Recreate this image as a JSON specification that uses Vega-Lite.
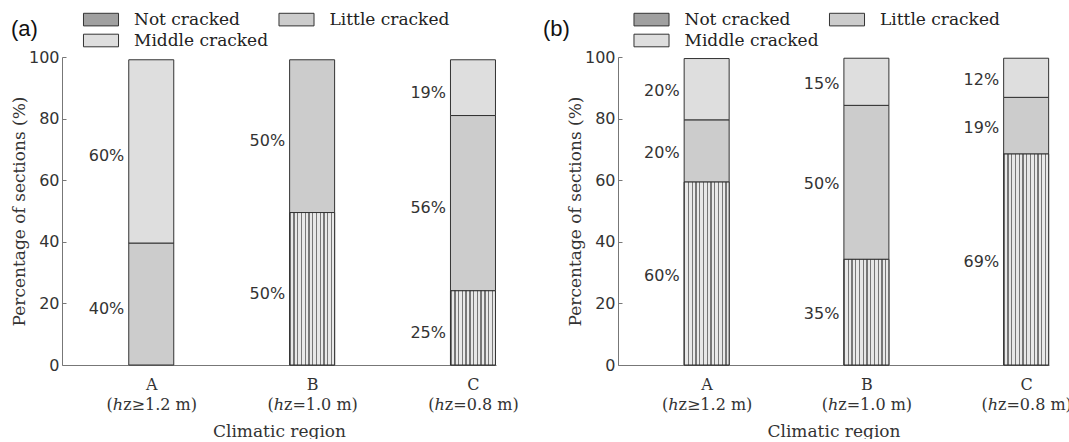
{
  "$schema": "https://vega.github.io/schema/vega-lite/v6.json",
  "padding": {"left": 10, "top": 11, "right": 0, "bottom": 0},
  "spacing": 24,
  "datasets": {
    "d": [
      {"panel": "a", "region": "A", "cat": "Little cracked", "k": 2, "value": 39.6, "label": "40%"},
      {"panel": "a", "region": "A", "cat": "Middle cracked", "k": 3, "value": 59.5, "label": "60%"},
      {"panel": "a", "region": "B", "cat": "Not cracked", "k": 1, "value": 49.5, "label": "50%"},
      {"panel": "a", "region": "B", "cat": "Little cracked", "k": 2, "value": 49.6, "label": "50%"},
      {"panel": "a", "region": "C", "cat": "Not cracked", "k": 1, "value": 24.1, "label": "25%"},
      {"panel": "a", "region": "C", "cat": "Little cracked", "k": 2, "value": 56.9, "label": "56%"},
      {"panel": "a", "region": "C", "cat": "Middle cracked", "k": 3, "value": 18.1, "label": "19%"},
      {"panel": "b", "region": "A", "cat": "Not cracked", "k": 1, "value": 59.4, "label": "60%"},
      {"panel": "b", "region": "A", "cat": "Little cracked", "k": 2, "value": 20.2, "label": "20%"},
      {"panel": "b", "region": "A", "cat": "Middle cracked", "k": 3, "value": 19.9, "label": "20%"},
      {"panel": "b", "region": "B", "cat": "Not cracked", "k": 1, "value": 34.3, "label": "35%"},
      {"panel": "b", "region": "B", "cat": "Little cracked", "k": 2, "value": 50.0, "label": "50%"},
      {"panel": "b", "region": "B", "cat": "Middle cracked", "k": 3, "value": 15.3, "label": "15%"},
      {"panel": "b", "region": "C", "cat": "Not cracked", "k": 1, "value": 68.5, "label": "69%"},
      {"panel": "b", "region": "C", "cat": "Little cracked", "k": 2, "value": 18.4, "label": "19%"},
      {"panel": "b", "region": "C", "cat": "Middle cracked", "k": 3, "value": 12.7, "label": "12%"}
    ]
  },
  "resolve": {"scale": {"fill": "independent"}, "legend": {"fill": "independent"}},
  "hconcat": [
    {
      "width": 434,
      "height": 308,
      "title": {"text": "(a)", "anchor": "start", "frame": "group", "font": "Liberation Sans", "fontSize": 22, "fontWeight": "normal", "color": "#111", "dx": -51, "offset": 0, "dy": 30},
      "data": {"name": "d"},
      "transform": [
        {"filter": "datum.panel === 'a'"},
        {"stack": "value", "groupby": ["region"], "sort": [{"field": "k", "order": "ascending"}], "as": ["y0", "y1"]},
        {"calculate": "(datum.y0 + datum.y1) / 2", "as": "ym"}
      ],
      "layer": [
        {
          "mark": {"type": "bar", "width": 45, "stroke": "#333", "strokeWidth": 1},
          "encoding": {
            "x": {"field": "region", "type": "nominal", "scale": {"type": "point", "padding": 0.349, "align": 0.795},
              "axis": {"title": "Climatic region", "labelExpr": "datum.value === 'A' ? ['A', '(ℎz≥1.2 m)'] : datum.value === 'B' ? ['B', '(ℎz=1.0 m)'] : ['C', '(ℎz=0.8 m)']"}},
            "y": {"field": "y0", "type": "quantitative", "scale": {"domain": [0, 100], "nice": false},
              "axis": {"title": "Percentage of sections (%)", "values": [0, 20, 40, 60, 80, 100]}},
            "y2": {"field": "y1"},
            "fill": {"field": "cat", "type": "nominal",
              "scale": {"domain": ["Not cracked", "Little cracked", "Middle cracked"], "range": ["#a0a0a0", "#cccccc", "#dedede"]},
              "legend": {"legendX": 30.5, "legendY": -46}}
          }
        },
        {
          "transform": [{"filter": "datum.cat === 'Not cracked'"}],
          "mark": {"type": "bar", "width": 45, "stroke": "#333", "strokeWidth": 1,
            "fill": {"gradient": "linear", "x1": 0, "y1": 0, "x2": 1, "y2": 0, "stops": [
              {"offset": 0, "color": "#777"}, {"offset": 0.0292, "color": "#777"}, {"offset": 0.0292, "color": "#e8e8e8"}, {"offset": 0.0833, "color": "#e8e8e8"},
              {"offset": 0.0833, "color": "#777"}, {"offset": 0.1125, "color": "#777"}, {"offset": 0.1125, "color": "#e8e8e8"}, {"offset": 0.1667, "color": "#e8e8e8"},
              {"offset": 0.1667, "color": "#777"}, {"offset": 0.1958, "color": "#777"}, {"offset": 0.1958, "color": "#e8e8e8"}, {"offset": 0.25, "color": "#e8e8e8"},
              {"offset": 0.25, "color": "#777"}, {"offset": 0.2792, "color": "#777"}, {"offset": 0.2792, "color": "#e8e8e8"}, {"offset": 0.3333, "color": "#e8e8e8"},
              {"offset": 0.3333, "color": "#777"}, {"offset": 0.3625, "color": "#777"}, {"offset": 0.3625, "color": "#e8e8e8"}, {"offset": 0.4167, "color": "#e8e8e8"},
              {"offset": 0.4167, "color": "#777"}, {"offset": 0.4458, "color": "#777"}, {"offset": 0.4458, "color": "#e8e8e8"}, {"offset": 0.5, "color": "#e8e8e8"},
              {"offset": 0.5, "color": "#777"}, {"offset": 0.5292, "color": "#777"}, {"offset": 0.5292, "color": "#e8e8e8"}, {"offset": 0.5833, "color": "#e8e8e8"},
              {"offset": 0.5833, "color": "#777"}, {"offset": 0.6125, "color": "#777"}, {"offset": 0.6125, "color": "#e8e8e8"}, {"offset": 0.6667, "color": "#e8e8e8"},
              {"offset": 0.6667, "color": "#777"}, {"offset": 0.6958, "color": "#777"}, {"offset": 0.6958, "color": "#e8e8e8"}, {"offset": 0.75, "color": "#e8e8e8"},
              {"offset": 0.75, "color": "#777"}, {"offset": 0.7792, "color": "#777"}, {"offset": 0.7792, "color": "#e8e8e8"}, {"offset": 0.8333, "color": "#e8e8e8"},
              {"offset": 0.8333, "color": "#777"}, {"offset": 0.8625, "color": "#777"}, {"offset": 0.8625, "color": "#e8e8e8"}, {"offset": 0.9167, "color": "#e8e8e8"},
              {"offset": 0.9167, "color": "#777"}, {"offset": 0.9458, "color": "#777"}, {"offset": 0.9458, "color": "#e8e8e8"}, {"offset": 1, "color": "#e8e8e8"}
            ]}},
          "encoding": {
            "x": {"field": "region", "type": "nominal"},
            "y": {"field": "y0", "type": "quantitative"},
            "y2": {"field": "y1"}
          }
        },
        {
          "mark": {"type": "text", "align": "right", "baseline": "middle", "dx": -27, "dy": 5, "font": "DejaVu Sans", "fontSize": 16, "fill": "#333"},
          "encoding": {
            "x": {"field": "region", "type": "nominal"},
            "y": {"field": "ym", "type": "quantitative"},
            "text": {"field": "label"}
          }
        }
      ]
    },
    {
      "width": 431,
      "height": 308,
      "title": {"text": "(b)", "anchor": "start", "frame": "group", "font": "Liberation Sans", "fontSize": 22, "fontWeight": "normal", "color": "#111", "dx": -75, "offset": 0, "dy": 30},
      "data": {"name": "d"},
      "transform": [
        {"filter": "datum.panel === 'b'"},
        {"stack": "value", "groupby": ["region"], "sort": [{"field": "k", "order": "ascending"}], "as": ["y0", "y1"]},
        {"calculate": "(datum.y0 + datum.y1) / 2", "as": "ym"}
      ],
      "layer": [
        {
          "mark": {"type": "bar", "width": 45, "stroke": "#333", "strokeWidth": 1},
          "encoding": {
            "x": {"field": "region", "type": "nominal", "scale": {"type": "point", "padding": 0.349, "align": 0.795},
              "axis": {"title": "Climatic region", "labelExpr": "datum.value === 'A' ? ['A', '(ℎz≥1.2 m)'] : datum.value === 'B' ? ['B', '(ℎz=1.0 m)'] : ['C', '(ℎz=0.8 m)']"}},
            "y": {"field": "y0", "type": "quantitative", "scale": {"domain": [0, 100], "nice": false},
              "axis": {"title": "Percentage of sections (%)", "values": [0, 20, 40, 60, 80, 100]}},
            "y2": {"field": "y1"},
            "fill": {"field": "cat", "type": "nominal",
              "scale": {"domain": ["Not cracked", "Little cracked", "Middle cracked"], "range": ["#a0a0a0", "#cccccc", "#dedede"]},
              "legend": {"legendX": 25, "legendY": -46}}
          }
        },
        {
          "transform": [{"filter": "datum.cat === 'Not cracked'"}],
          "mark": {"type": "bar", "width": 45, "stroke": "#333", "strokeWidth": 1,
            "fill": {"gradient": "linear", "x1": 0, "y1": 0, "x2": 1, "y2": 0, "stops": [
              {"offset": 0, "color": "#777"}, {"offset": 0.0292, "color": "#777"}, {"offset": 0.0292, "color": "#e8e8e8"}, {"offset": 0.0833, "color": "#e8e8e8"},
              {"offset": 0.0833, "color": "#777"}, {"offset": 0.1125, "color": "#777"}, {"offset": 0.1125, "color": "#e8e8e8"}, {"offset": 0.1667, "color": "#e8e8e8"},
              {"offset": 0.1667, "color": "#777"}, {"offset": 0.1958, "color": "#777"}, {"offset": 0.1958, "color": "#e8e8e8"}, {"offset": 0.25, "color": "#e8e8e8"},
              {"offset": 0.25, "color": "#777"}, {"offset": 0.2792, "color": "#777"}, {"offset": 0.2792, "color": "#e8e8e8"}, {"offset": 0.3333, "color": "#e8e8e8"},
              {"offset": 0.3333, "color": "#777"}, {"offset": 0.3625, "color": "#777"}, {"offset": 0.3625, "color": "#e8e8e8"}, {"offset": 0.4167, "color": "#e8e8e8"},
              {"offset": 0.4167, "color": "#777"}, {"offset": 0.4458, "color": "#777"}, {"offset": 0.4458, "color": "#e8e8e8"}, {"offset": 0.5, "color": "#e8e8e8"},
              {"offset": 0.5, "color": "#777"}, {"offset": 0.5292, "color": "#777"}, {"offset": 0.5292, "color": "#e8e8e8"}, {"offset": 0.5833, "color": "#e8e8e8"},
              {"offset": 0.5833, "color": "#777"}, {"offset": 0.6125, "color": "#777"}, {"offset": 0.6125, "color": "#e8e8e8"}, {"offset": 0.6667, "color": "#e8e8e8"},
              {"offset": 0.6667, "color": "#777"}, {"offset": 0.6958, "color": "#777"}, {"offset": 0.6958, "color": "#e8e8e8"}, {"offset": 0.75, "color": "#e8e8e8"},
              {"offset": 0.75, "color": "#777"}, {"offset": 0.7792, "color": "#777"}, {"offset": 0.7792, "color": "#e8e8e8"}, {"offset": 0.8333, "color": "#e8e8e8"},
              {"offset": 0.8333, "color": "#777"}, {"offset": 0.8625, "color": "#777"}, {"offset": 0.8625, "color": "#e8e8e8"}, {"offset": 0.9167, "color": "#e8e8e8"},
              {"offset": 0.9167, "color": "#777"}, {"offset": 0.9458, "color": "#777"}, {"offset": 0.9458, "color": "#e8e8e8"}, {"offset": 1, "color": "#e8e8e8"}
            ]}},
          "encoding": {
            "x": {"field": "region", "type": "nominal"},
            "y": {"field": "y0", "type": "quantitative"},
            "y2": {"field": "y1"}
          }
        },
        {
          "mark": {"type": "text", "align": "right", "baseline": "middle", "dx": -27, "dy": 2, "font": "DejaVu Sans", "fontSize": 16, "fill": "#333"},
          "encoding": {
            "x": {"field": "region", "type": "nominal"},
            "y": {"field": "ym", "type": "quantitative"},
            "text": {"field": "label"}
          }
        }
      ]
    }
  ],
  "config": {
    "view": {"stroke": null},
    "axis": {"grid": false, "domainColor": "#777", "tickColor": "#777", "labelColor": "#333", "titleColor": "#333", "titleFontWeight": "normal"},
    "axisX": {"labelFont": "DejaVu Serif", "labelFontSize": 16, "labelAngle": 0, "ticks": false, "labelPadding": 11, "labelLineHeight": 20, "titleFont": "DejaVu Serif", "titleFontSize": 17, "titlePadding": 11},
    "axisY": {"labelFont": "DejaVu Sans", "labelFontSize": 16, "tickSize": -4, "labelPadding": 7, "titleFont": "DejaVu Serif", "titleFontSize": 17, "titlePadding": 0},
    "legend": {
      "orient": "none", "title": null, "direction": "horizontal", "columns": 2, "padding": 0,
      "symbolType": "M-2.78,-1H2.78V1H-2.78Z", "symbolSize": 159, "symbolStrokeColor": "#333", "symbolStrokeWidth": 1,
      "labelFont": "DejaVu Serif", "labelFontSize": 17, "labelColor": "#222", "labelOffset": 24.5, "labelLimit": 300,
      "columnPadding": 7.5, "rowPadding": 3
    }
  }
}
